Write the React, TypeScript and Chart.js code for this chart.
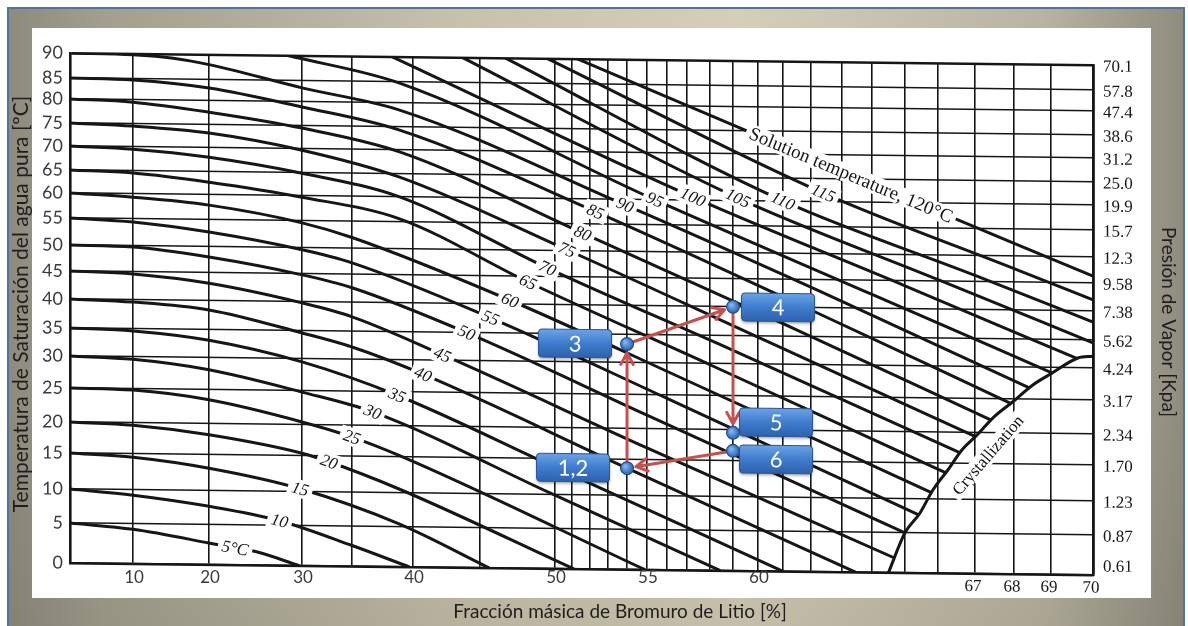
import React, { useEffect, useRef } from 'react';
import { Chart, LinearScale, registerables } from 'chart.js';

// ---------------- data ----------------
const concTicks = [10, 20, 30, 35, 40, 45, 50, 51, 52, 53, 54, 55, 56, 57, 58, 59, 60, 61, 62, 63, 64, 65, 66, 67, 68, 69, 70];
const concLabels = [10, 20, 30, 40, 50, 55, 60];
const concLabelsScan = [67, 68, 69, 70];
const satTicks = [0, 5, 10, 15, 20, 25, 30, 35, 40, 45, 50, 55, 60, 65, 70, 75, 80, 85, 90];
const pressureLabels = ['0.61', '0.87', '1.23', '1.70', '2.34', '3.17', '4.24', '5.62', '7.38', '9.58', '12.3', '15.7', '19.9', '25.0', '31.2', '38.6', '47.4', '57.8', '70.1'];

const solutionTemps = [5, 10, 15, 20, 25, 30, 35, 40, 45, 50, 55, 60, 65, 70, 75, 80, 85, 90, 95, 100, 105, 110, 115, 120];

// [mass fraction %, water saturation temperature °C]
const iso5 = [[0, 5], [10, 4.3], [20, 2.7], [22.8, 2.1], [25, 1.7], [29.7, 0]];
const iso10 = [[0, 10], [10, 9.2], [20, 7.7], [27.6, 5.7], [35, 2.6], [39.7, 0]];
const iso15 = [[0, 15], [10, 14.5], [20, 13.1], [29.8, 10.4], [38.9, 5.4], [45.6, 0]];
const iso20 = [[0, 20], [10, 19.6], [20, 18.2], [30, 15.4], [32.7, 14.2], [38.9, 10.5], [51.1, 0]];
const iso25 = [[0, 25], [10, 24.8], [20, 23.5], [30, 20.4], [35, 18.1], [38.9, 15.2], [54.9, 0]];
const iso30 = [[0, 30], [10, 29.6], [20, 28.1], [30, 24.8], [36.7, 22.0], [49.7, 10.2], [58.45, 0]];
const iso35 = [[0, 35], [10, 34.6], [20, 33.1], [30, 29.5], [38.7, 24.5], [50, 13.8], [61, 0]];
const iso40 = [[0, 40], [10, 39.6], [20, 38.4], [30, 34.6], [35, 32.2], [40.75, 27.8], [54, 13.8], [63.45, 0]];
const iso45 = [[0, 45], [10, 44.6], [20, 43.1], [30, 39.8], [35, 37.5], [42.2, 31.0], [55, 16.9], [64.7, 1.8]];
const iso50 = [[0, 50], [10, 49.75], [20, 48.0], [30, 44.8], [35, 42.6], [44, 35.0], [55, 22.0], [65, 5.0]];
const iso55 = [[0, 55], [10, 54.4], [20, 52.7], [30, 49.6], [35, 47.2], [45.7, 37.6], [56, 24.5], [65.4, 7.7]];
const iso60 = [[0, 60], [10, 59.3], [20, 57.9], [30, 54.6], [35, 52.0], [47, 40.7], [57, 27.3], [65.8, 10.9]];
const iso65 = [[0, 65], [10, 64.5], [20, 62.7], [30, 59.7], [38.9, 55.6], [48.2, 44.0], [58, 29.8], [66.2, 13.7]];
const iso70 = [[0, 70], [10, 69.5], [20, 68.0], [30, 64.9], [38.9, 60.0], [49.5, 46.65], [59, 32.4], [66.6, 16.7]];
const iso75 = [[0, 75], [10, 74.5], [20, 73.2], [30, 69.7], [38.9, 64.3], [50.7, 50.2], [60, 34.8], [67, 19.4]];
const iso80 = [[0, 80], [10, 79.5], [20, 77.6], [30, 74.5], [38.9, 69.6], [51.6, 53.3], [61, 37.2], [67.4, 21.9]];
const iso85 = [[0, 85], [10, 84.7], [20, 83.0], [30, 78.9], [38.9, 74.3], [52.3, 57.5], [62, 39.6], [67.9, 24.4]];
const iso90 = [[0, 90], [10, 89.8], [15.3, 89.2], [20, 88.0], [30, 83.3], [38.9, 78.5], [53.9, 58.9], [63, 41.2], [68.4, 26.8]];
const iso95 = [[28.5, 90], [38.9, 84.7], [55.4, 60.0], [64, 42.5], [69.05, 29.1]];
const iso100 = [[38.3, 90], [57.26, 60.7], [65, 44.1], [69.6, 31.7]];
const iso105 = [[43.7, 90], [59.2, 60.6], [66, 45.3], [70, 34.5]];
const iso110 = [[46.7, 90], [61.0, 60.1], [67, 46.2], [70, 38.1]];
const iso115 = [[49.5, 90], [62.4, 61.9], [68, 47.6], [70, 42.0]];
const iso120 = [[51.3, 90], [63.3, 65.85], [70, 46.3]];
const isotherms = [iso5, iso10, iso15, iso20, iso25, iso30, iso35, iso40, iso45, iso50, iso55, iso60, iso65, iso70, iso75, iso80, iso85, iso90, iso95, iso100, iso105, iso110, iso115, iso120];

const crystallization = [[64.5, 0], [65, 5.0], [65.45, 7.9], [65.85, 11.3], [66.27, 14.1], [66.65, 17.2], [67.05, 19.6], [67.46, 22.2], [67.97, 24.6], [68.5, 27.2], [69.02, 29.1], [69.64, 31.75], [70, 32.1]];

// curve labels (sit on their isotherm)
const labelText = ['5°C', '10', '15', '20', '25', '30', '35', '40', '45', '50', '55', '60', '65', '70', '75', '80', '85', '90', '95', '100', '105', '110', '115', 'Solution temperature, 120°C'];
const labelConc = [22.8, 27.6, 29.8, 32.7, 35, 36.7, 38.7, 40.75, 42.2, 44, 45.7, 47, 48.2, 49.5, 50.7, 51.6, 52.3, 53.9, 55.4, 57.26, 59.2, 61.0, 62.4, 63.3];
const labelSat = [2.1, 5.7, 10.4, 14.2, 18.1, 22.0, 24.5, 27.8, 31.0, 35.0, 37.6, 40.7, 44.0, 46.65, 50.2, 53.3, 57.5, 58.9, 60.0, 60.7, 60.6, 60.1, 61.9, 65.85];
const crystLabel = 'Crystallization';
const crystLabelConc = 67.33;
const crystLabelSat = 16.4;

// cycle state points
const stateNames = ['3', '4', '5', '6', '1,2'];
const stateConc = [54, 59, 59, 59, 54];
const stateSat = [33.3, 40.0, 19.5, 16.6, 13.8];
const cycleArrows = [[4, 0], [0, 1], [1, 2], [3, 4]];

// axis geometry of the scanned chart (value -> fraction of axis length)
const xAxisBreaks = [[0, 0], [10, 0.0616], [20, 0.1359], [30, 0.2268], [35, 0.2757], [40, 0.3353], [45, 0.4008], [50, 0.4741], [51, 0.4907], [52, 0.5083], [53, 0.5259], [54, 0.5445], [55, 0.564], [56, 0.5836], [57, 0.6031], [58, 0.6256], [59, 0.6481], [60, 0.6725], [61, 0.697], [62, 0.7243], [63, 0.7546], [64, 0.784], [65, 0.8162], [66, 0.8485], [67, 0.8847], [68, 0.9228], [69, 0.9589], [70, 1]];
const yAxisBreaks = [[0, 0], [5, 0.0784], [10, 0.1451], [15, 0.2157], [20, 0.2765], [25, 0.3431], [30, 0.4059], [35, 0.4608], [40, 0.5176], [45, 0.5725], [50, 0.6235], [55, 0.6765], [60, 0.7255], [65, 0.7706], [70, 0.8176], [75, 0.8627], [80, 0.9098], [85, 0.951], [90, 1]];

// ---------------- scale ----------------
function mapThrough(b: number[][], v: number, from: number, to: number) {
  const n = b.length;
  let i = 1;
  while (i < n - 1 && v > b[i][from]) i++;
  const a = b[i - 1], c = b[i];
  return a[to] + (v - a[from]) * (c[to] - a[to]) / (c[from] - a[from]);
}

class PiecewiseScale extends LinearScale {
  static id = 'piecewise';
  static defaults = {};
  getPixelForValue(value: any) {
    if (value === null || value === undefined || isNaN(value)) return NaN;
    const b = (this as any).axis === 'x' ? xAxisBreaks : yAxisBreaks;
    return (this as any).getPixelForDecimal(mapThrough(b, value, 0, 1));
  }
  getValueForPixel(pixel: number) {
    const b = (this as any).axis === 'x' ? xAxisBreaks : yAxisBreaks;
    return mapThrough(b, (this as any).getDecimalForPixel(pixel), 1, 0);
  }
}

Chart.register(...registerables, PiecewiseScale as any);

const INK = '#161616';
const SKEW = Math.tan((0.67 * Math.PI) / 180);

function drawBox(ctx: any, cx: number, cy: number, w: number, h: number, r: number) {
  const x = cx - w / 2, y = cy - h / 2;
  ctx.beginPath();
  ctx.moveTo(x + r, y);
  ctx.lineTo(x + w - r, y);
  ctx.quadraticCurveTo(x + w, y, x + w, y + r);
  ctx.lineTo(x + w, y + h - r);
  ctx.quadraticCurveTo(x + w, y + h, x + w - r, y + h);
  ctx.lineTo(x + r, y + h);
  ctx.quadraticCurveTo(x, y + h, x, y + h - r);
  ctx.lineTo(x, y + r);
  ctx.quadraticCurveTo(x, y, x + r, y);
  ctx.closePath();
}

function labelOnCurve(ctx: any, xs: any, ys: any, pts: number[][], c: number, s: number, txt: string, font: string) {
  let prev = pts[0], next = pts[pts.length - 1];
  for (const p of pts) if (p[0] < c - 0.05) prev = p;
  for (let k = pts.length - 1; k >= 0; k--) if (pts[k][0] > c + 0.05) next = pts[k];
  const ax = xs.getPixelForValue(prev[0]), ay = ys.getPixelForValue(prev[1]);
  const bx = xs.getPixelForValue(next[0]), by = ys.getPixelForValue(next[1]);
  const ang = Math.atan2(by - ay, bx - ax);
  const px = xs.getPixelForValue(c), py = ys.getPixelForValue(s);
  ctx.save();
  ctx.translate(px, py);
  ctx.rotate(ang);
  ctx.font = font;
  const w = ctx.measureText(txt).width;
  ctx.fillStyle = '#ffffff';
  ctx.fillRect(-w / 2 - 4, -9, w + 8, 18);
  ctx.fillStyle = INK;
  ctx.textAlign = 'center';
  ctx.textBaseline = 'middle';
  ctx.fillText(txt, 0, 1);
  ctx.restore();
}

const decorPlugin = {
  id: 'decor',
  beforeDraw(chart: any) {
    const ctx = chart.ctx;
    ctx.save();
    const ox = chart.chartArea.left;
    ctx.transform(1, SKEW, 0, 1, 0, -SKEW * ox);
  },
  afterDatasetsDraw(chart: any) {
    const ctx = chart.ctx;
    const xs = chart.scales.x, ys = chart.scales.y;
    labelText.forEach((txt, i) => {
      const last = i === labelText.length - 1;
      labelOnCurve(ctx, xs, ys, isotherms[i], labelConc[i], labelSat[i], txt,
        last ? '19px "Liberation Serif"' : 'italic 17px "Liberation Serif"');
    });
    // crystallization label beside its curve
    let prev = crystallization[0], next = crystallization[crystallization.length - 1];
    for (const p of crystallization) if (p[0] < crystLabelConc - 0.9) prev = p;
    for (let k = crystallization.length - 1; k >= 0; k--) if (crystallization[k][0] > crystLabelConc + 0.1) next = crystallization[k];
    const ang = Math.atan2(ys.getPixelForValue(next[1]) - ys.getPixelForValue(prev[1]), xs.getPixelForValue(next[0]) - xs.getPixelForValue(prev[0]));
    ctx.save();
    ctx.translate(xs.getPixelForValue(crystLabelConc), ys.getPixelForValue(crystLabelSat));
    ctx.rotate(ang);
    ctx.font = '17px "Liberation Serif"';
    const w = ctx.measureText(crystLabel).width;
    ctx.fillStyle = '#fff';
    ctx.fillRect(-w / 2 - 4, -9, w + 8, 18);
    ctx.fillStyle = INK;
    ctx.textAlign = 'center';
    ctx.textBaseline = 'middle';
    ctx.fillText(crystLabel, 0, 1);
    ctx.restore();
  },
  afterDraw(chart: any) {
    const ctx = chart.ctx;
    const xs = chart.scales.x, ys = chart.scales.y;
    const area = chart.chartArea;

    // scan tick labels (serif): 67..70 below, vapour pressures on the right
    ctx.save();
    ctx.font = '17px "Liberation Serif"';
    ctx.fillStyle = INK;
    ctx.textAlign = 'center';
    ctx.textBaseline = 'middle';
    concLabelsScan.forEach((v) => ctx.fillText(String(v), xs.getPixelForValue(v) - 2, area.bottom + 13));
    ctx.textAlign = 'left';
    satTicks.forEach((t, i) => {
      const lift = i === 0 ? -8 : 2;
      ctx.fillText(pressureLabels[i], area.right + 10, ys.getPixelForValue(t) + lift);
    });
    ctx.restore();

    // cycle overlay
    const pts = stateConc.map((c, i) => [xs.getPixelForValue(c), ys.getPixelForValue(stateSat[i])]);
    ctx.save();
    ctx.strokeStyle = '#c5504c';
    ctx.lineWidth = 3;
    ctx.lineCap = 'round';
    ctx.lineJoin = 'round';
    cycleArrows.forEach(([a, b]) => {
      const [x1, y1] = pts[a];
      const [x2, y2] = pts[b];
      const d = Math.hypot(x2 - x1, y2 - y1);
      const ux = (x2 - x1) / d, uy = (y2 - y1) / d;
      const sx = x1 + ux * 7, sy = y1 + uy * 7;
      const ex = x2 - ux * 9, ey = y2 - uy * 9;
      ctx.beginPath();
      ctx.moveTo(sx, sy);
      ctx.lineTo(ex, ey);
      const hl = 13, sp = 0.5;
      const ca = Math.cos(sp), sa = Math.sin(sp);
      const lx = -(ux * ca - uy * sa) * hl, ly = -(uy * ca + ux * sa) * hl;
      const rx = -(ux * ca + uy * sa) * hl, ry = -(uy * ca - ux * sa) * hl;
      ctx.moveTo(ex + lx, ey + ly);
      ctx.lineTo(ex, ey);
      ctx.lineTo(ex + rx, ey + ry);
      ctx.stroke();
    });
    ctx.restore();

    const boxOffsets = [[-52, 0], [45, 0], [43, -11], [43, 8], [-54, 0]];
    stateNames.forEach((name, i) => {
      const cx = pts[i][0] + boxOffsets[i][0];
      const cy = pts[i][1] + boxOffsets[i][1];
      ctx.save();
      ctx.shadowColor = 'rgba(0,0,0,0.35)';
      ctx.shadowBlur = 3;
      ctx.shadowOffsetY = 2;
      const g = ctx.createLinearGradient(0, cy - 14, 0, cy + 14);
      g.addColorStop(0, '#6aa3e6');
      g.addColorStop(0.5, '#3f7ccd');
      g.addColorStop(1, '#2c62ae');
      drawBox(ctx, cx, cy, 73, 28, 4);
      ctx.fillStyle = g;
      ctx.fill();
      ctx.shadowColor = 'transparent';
      ctx.strokeStyle = '#2a5596';
      ctx.lineWidth = 1;
      ctx.stroke();
      ctx.fillStyle = '#ffffff';
      ctx.font = '22px Lato';
      ctx.textAlign = 'center';
      ctx.textBaseline = 'middle';
      ctx.fillText(name, cx, cy + 1);
      ctx.restore();
    });

    pts.forEach(([x, y]) => {
      ctx.save();
      const g = ctx.createRadialGradient(x - 2, y - 2, 1, x, y, 7);
      g.addColorStop(0, '#7fb4f0');
      g.addColorStop(1, '#1f5cab');
      ctx.beginPath();
      ctx.arc(x, y, 6.5, 0, Math.PI * 2);
      ctx.fillStyle = g;
      ctx.fill();
      ctx.strokeStyle = '#1c4b8a';
      ctx.lineWidth = 1;
      ctx.stroke();
      ctx.restore();
    });

    ctx.restore(); // end of skew

    // slide-level texts (not skewed)
    ctx.save();
    ctx.fillStyle = '#3b3b3b';
    ctx.font = '17px Lato';
    ctx.textAlign = 'center';
    ctx.textBaseline = 'middle';
    concLabels.forEach((v) => ctx.fillText(String(v), xs.getPixelForValue(v) + 1, area.bottom + 15));

    ctx.fillStyle = '#1e1e1e';
    ctx.font = '19px Lato';
    ctx.fillText('Fracción másica de Bromuro de Litio [%]', 620, 612);

    ctx.save();
    ctx.translate(21, 304);
    ctx.rotate(-Math.PI / 2);
    ctx.font = '21px Lato';
    ctx.fillText('Temperatura de Saturación del agua pura [ºC]', 0, 0);
    ctx.restore();

    ctx.save();
    ctx.translate(1168, 322);
    ctx.rotate(Math.PI / 2);
    ctx.font = '19px Lato';
    ctx.fillText('Presión de Vapor [Kpa]', 0, 0);
    ctx.restore();
    ctx.restore();
  },
};

export default function App() {
  const ref = useRef<HTMLCanvasElement>(null);
  useEffect(() => {
    const datasets: any[] = isotherms.map((pts, i) => ({
      label: solutionTemps[i] + ' °C',
      data: pts.map((p) => ({ x: p[0], y: p[1] })),
      borderColor: INK,
      borderWidth: 3,
      pointRadius: 0,
      fill: false,
      cubicInterpolationMode: 'monotone',
    }));
    datasets.push({
      label: 'Crystallization',
      data: crystallization.map((p) => ({ x: p[0], y: p[1] })),
      borderColor: INK,
      borderWidth: 3,
      pointRadius: 0,
      fill: false,
      cubicInterpolationMode: 'monotone',
    });
    const edgeWidth = (edge: number) => (c: any) => (c.tick && c.tick.value === edge ? 2.6 : 1.6);
    const chart = new Chart(ref.current as HTMLCanvasElement, {
      type: 'line',
      data: { datasets },
      options: {
        responsive: false,
        animation: false,
        events: [],
        layout: { padding: { top: 53, left: 0, right: 0, bottom: 0 } },
        plugins: { legend: { display: false }, tooltip: { enabled: false } },
        scales: {
          x: {
            type: 'piecewise',
            position: 'bottom',
            min: 0,
            max: 70,
            afterBuildTicks: (s: any) => { s.ticks = concTicks.map((v) => ({ value: v })); },
            afterFit: (s: any) => { s.height = 63; },
            ticks: { display: false, autoSkip: false },
            grid: { color: INK, lineWidth: edgeWidth(70), drawTicks: false },
            border: { color: INK, width: 2.6 },
          },
          y: {
            type: 'piecewise',
            position: 'left',
            min: 0,
            max: 90,
            afterBuildTicks: (s: any) => { s.ticks = satTicks.map((v) => ({ value: v })); },
            afterFit: (s: any) => { s.width = 70; },
            ticks: { autoSkip: false, padding: 7, color: '#3b3b3b', font: { family: 'Lato', size: 18 }, callback: (v: any) => String(v) },
            grid: { color: INK, lineWidth: edgeWidth(90), drawTicks: false },
            border: { color: INK, width: 2.6 },
          },
          y2: {
            type: 'piecewise',
            position: 'right',
            min: 0,
            max: 90,
            afterBuildTicks: (s: any) => { s.ticks = satTicks.map((v) => ({ value: v })); },
            afterFit: (s: any) => { s.width = 95; },
            ticks: { display: false, autoSkip: false },
            grid: { display: false, drawTicks: false },
            border: { color: INK, width: 2.6 },
          },
        } as any,
      },
      plugins: [decorPlugin as any],
    } as any);
    return () => chart.destroy();
  }, []);

  return (
    <div style={{ position: 'fixed', left: 0, top: 0, width: 1188, height: 626, background: '#ffffff', overflow: 'hidden' }}>
      <div
        style={{
          position: 'absolute',
          left: 7,
          top: 7,
          width: 1178,
          height: 640,
          boxSizing: 'border-box',
          border: '2px solid #52729c',
          background:
            'linear-gradient(180deg, rgba(0,0,0,0) 60%, rgba(60,55,40,0.12) 100%), linear-gradient(90deg, #8d8b7e 0%, #a29f8f 8%, #c9c3ae 40%, #d5cfba 62%, #b9b4a1 88%, #8f8d80 100%)',
        }}
      />
      <div style={{ position: 'absolute', left: 32, top: 28, width: 1119, height: 570, background: '#ffffff' }} />
      <canvas ref={ref} width={1188} height={626} style={{ position: 'absolute', left: 0, top: 0, width: 1188, height: 626 }} />
    </div>
  );
}
